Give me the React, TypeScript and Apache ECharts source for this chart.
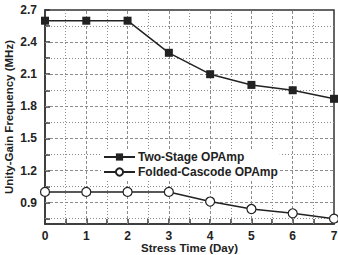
import React, { useEffect, useRef } from "react";
import * as echarts from "echarts";

const days = [0, 1, 2, 3, 4, 5, 6, 7];
const twoStage = [2.6, 2.6, 2.6, 2.3, 2.1, 2.0, 1.95, 1.87];
const foldedCascode = [1.0, 1.0, 1.0, 1.0, 0.91, 0.84, 0.8, 0.75];
const yMajor = [0.9, 1.2, 1.5, 1.8, 2.1, 2.4, 2.7];
const yMinor = [0.75, 1.05, 1.35, 1.65, 1.95, 2.25, 2.55];
const xMajor = [1, 2, 3, 4, 5, 6];
const xMinor = [0.5, 1.5, 2.5, 3.5, 4.5, 5.5, 6.5];

export default function App() {
  const ref = useRef<HTMLDivElement>(null);
  useEffect(() => {
    if (!ref.current) return;
    const chart = echarts.init(ref.current, null, { renderer: "svg" });
    const font = "Liberation Sans, Arial, sans-serif";
    const gridColor = "#8c8c8c";
    const markData: any[] = [
      ...yMajor.filter((v) => v < 2.7).map((v) => ({ yAxis: v, lineStyle: { type: [3, 2], color: gridColor, width: 1 } })),
      ...yMinor.map((v) => ({ yAxis: v, lineStyle: { type: [1, 2], color: gridColor, width: 1 } })),
      ...xMajor.map((v) => ({ xAxis: v, lineStyle: { type: [3, 2], color: gridColor, width: 1 } })),
      ...xMinor.map((v) => ({ xAxis: v, lineStyle: { type: [1, 2], color: gridColor, width: 1 } })),
    ];
    chart.setOption({
      animation: false,
      grid: { left: 45, right: 4, top: 10, bottom: 31, show: true, borderColor: "#333", borderWidth: 1.5, backgroundColor: "transparent", outerBoundsMode: "none", containLabel: false },
      legend: {
        left: 101,
        top: 150,
        orient: "vertical",
        itemWidth: 31,
        itemHeight: 9,
        itemGap: 3,
        padding: [1, 2],
        backgroundColor: "#fff",
        textStyle: { fontFamily: font, fontWeight: "bold", fontSize: 12, color: "#222", padding: [0, 0, 0, -2] },
        data: ["Two-Stage OPAmp", "Folded-Cascode OPAmp"],
      },
      xAxis: {
        type: "value",
        min: 0,
        max: 7,
        interval: 1,
        axisLine: { show: true, lineStyle: { color: "#333", width: 1.5 } },
        axisTick: { show: true, inside: true, length: 5, lineStyle: { color: "#333", width: 1.5 }, customValues: [0.5, 1, 1.5, 2, 2.5, 3, 3.5, 4, 4.5, 5, 5.5, 6, 6.5] },
        splitLine: { show: false },
        axisLabel: { fontFamily: font, fontWeight: "bold", fontSize: 12, color: "#222", margin: 6 },
        name: "Stress Time (Day)",
        nameLocation: "middle",
        nameGap: 18,
        nameMoveOverlap: false,
        nameTextStyle: { fontFamily: font, fontWeight: "bold", fontSize: 11.5, color: "#222", lineHeight: 12 },
      },
      yAxis: {
        type: "value",
        min: 0.7,
        max: 2.7,
        axisLine: { show: true, lineStyle: { color: "#333", width: 1.5 } },
        axisTick: { show: true, inside: true, length: 5, lineStyle: { color: "#333", width: 1.5 }, customValues: [...yMinor, ...yMajor] },
        splitLine: { show: false },
        axisLabel: { customValues: yMajor, formatter: (v: number) => v.toFixed(1), fontFamily: font, fontWeight: "bold", fontSize: 12, color: "#222", margin: 8 },
        name: "Unity-Gain Frequency (MHz)",
        nameLocation: "middle",
        nameGap: 30,
        nameMoveOverlap: false,
        nameTextStyle: { fontFamily: font, fontWeight: "bold", fontSize: 11.5, color: "#222" },
      },
      series: [
        {
          name: "Two-Stage OPAmp",
          type: "line",
          data: days.map((d, i) => [d, twoStage[i]]),
          symbol: "rect",
          symbolSize: 8,
          itemStyle: { color: "#222" },
          lineStyle: { color: "#222", width: 1.5 },
          z: 3,
          markLine: { silent: true, symbol: "none", label: { show: false }, animation: false, data: markData, z: 1 },
        },
        {
          name: "Folded-Cascode OPAmp",
          type: "line",
          data: days.map((d, i) => [d, foldedCascode[i]]),
          symbol: "circle",
          symbolSize: 9,
          itemStyle: { color: "#fff", borderColor: "#222", borderWidth: 1.2 },
          lineStyle: { color: "#222", width: 1.5 },
          z: 3,
        },
      ],
    });
    return () => chart.dispose();
  }, []);
  return <div ref={ref} style={{ width: 338, height: 255, position: "absolute", left: 0, top: 0 }} />;
}
